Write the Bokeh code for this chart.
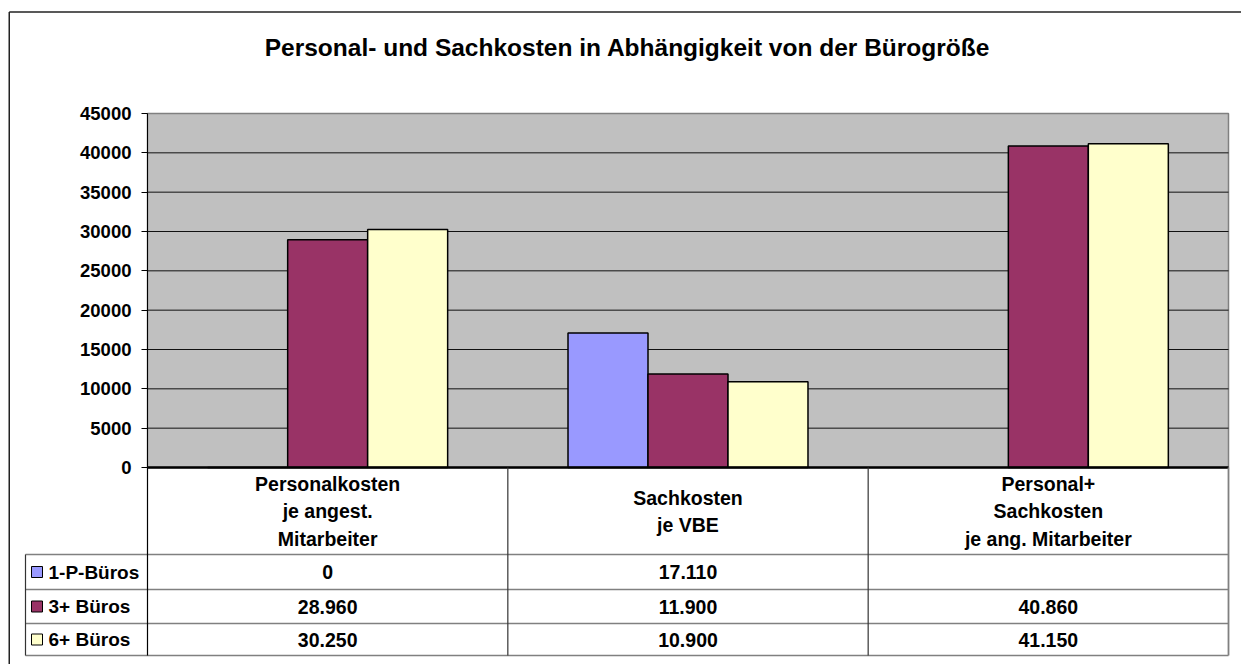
from bokeh.plotting import figure
from bokeh.models import Range1d, FixedTicker, LinearAxis, ColumnDataSource
from bokeh.embed import file_html
from bokeh.resources import INLINE
from bokeh.core.properties import value

# ---------------- data ----------------
title_text = "Personal- und Sachkosten in Abhängigkeit von der Bürogröße"
categories = ["Personalkosten\nje angest.\nMitarbeiter",
              "Sachkosten\nje VBE",
              "Personal+\nSachkosten\nje ang. Mitarbeiter"]
series_names = ["1-P-Büros", "3+ Büros", "6+ Büros"]
values_1p = [0, 17110, None]
values_3p = [28960, 11900, 40860]
values_6p = [30250, 10900, 41150]
series_values = [values_1p, values_3p, values_6p]
series_colors = ["#9999FF", "#993366", "#FFFFCC"]
y_ticks = [0, 5000, 10000, 15000, 20000, 25000, 30000, 35000, 40000, 45000]
y_max = 45000

# ---------------- layout constants (page pixels) ----------------
FONT = "Liberation Sans"
W, H = 1241, 664             # canvas size; canvas starts at page (0, 0)
CX0, CY0 = 0, 0
PLOT_L, PLOT_R = 147, 1228   # plot area left/right
PLOT_T, PLOT_B = 113, 467    # plot area top / zero line
TBL_L = 25
ROW_LINES = [554, 589, 623, 655]
ROW_CENTERS = [571.5, 606, 639]
HEADER_Y = 511
BAR_W = 0.222

n_cat = len(categories)
ux = (PLOT_R - PLOT_L) / n_cat          # px per category
uy = (PLOT_B - PLOT_T) / y_max          # px per value unit
x_start = (CX0 - PLOT_L) / ux
x_end = (CX0 + W - PLOT_L) / ux
y_top = y_max + (PLOT_T - CY0) / uy
y_bot = -(CY0 + H - PLOT_B) / uy

p = figure(width=W, height=H, x_range=Range1d(x_start, x_end), y_range=Range1d(y_bot, y_top),
           x_axis_type=None, y_axis_type=None, output_backend="svg", toolbar_location=None,
           min_border_left=0, min_border_right=0, min_border_top=0, min_border_bottom=0,
           background_fill_color="white", border_fill_color="white")
p.outline_line_color = None
p.grid.visible = False
# page-pixel ranges for table / title / frame decorations
p.extra_x_ranges = {"px": Range1d(CX0, CX0 + W)}
p.extra_y_ranges = {"px": Range1d(CY0 + H, CY0)}

# outer border (left and top visible)
p.segment(x0=[8.75, 8.75], y0=[11.5, 11.5], x1=[CX0 + W, 8.75], y1=[11.5, CY0 + H],
          x_range_name="px", y_range_name="px", line_color="#222222", line_width=1.5)

# title
p.text(x=[627], y=[47], text=[title_text], x_range_name="px", y_range_name="px",
       text_font=value(FONT), text_font_size="24.5px", text_font_style="bold",
       text_align="center", text_baseline="middle", text_color="black")

# plot area background
p.quad(left=[0], right=[n_cat], bottom=[0], top=[y_max], fill_color="#C0C0C0",
       line_color="#808080", line_width=1.5)

# horizontal gridlines
grid_vals = y_ticks[1:-1]
p.segment(x0=[0] * len(grid_vals), y0=grid_vals, x1=[n_cat] * len(grid_vals), y1=grid_vals,
          line_color="#111111", line_width=1)

# y axis
yaxis = LinearAxis(ticker=FixedTicker(ticks=y_ticks), bounds=(0, y_max), fixed_location=0)
yaxis.major_label_text_font = FONT
yaxis.major_label_text_font_size = "18.5px"
yaxis.major_label_text_font_style = "bold"
yaxis.major_label_text_color = "black"
yaxis.major_tick_out = 6
yaxis.major_tick_in = 0
yaxis.minor_tick_line_color = None
yaxis.axis_line_color = "black"
yaxis.major_tick_line_color = "black"
yaxis.major_label_standoff = 10
p.add_layout(yaxis, "left")

# bars
for j, (vals, col) in enumerate(zip(series_values, series_colors)):
    xs, tops = [], []
    for i, v in enumerate(vals):
        if v is None:
            continue
        xs.append(i + 0.5 + (j - 1) * BAR_W)
        tops.append(v)
    src = ColumnDataSource(dict(x=xs, top=tops))
    p.vbar(x="x", top="top", bottom=0, width=BAR_W, source=src,
           fill_color=col, line_color="black", line_width=1.5)

# ---------------- data table ----------------
# zero / category axis line
p.segment(x0=[0], y0=[0], x1=[n_cat], y1=[0], line_color="black", line_width=2.5)
# horizontal table lines
p.segment(x0=[TBL_L] * len(ROW_LINES), y0=ROW_LINES, x1=[PLOT_R] * len(ROW_LINES), y1=ROW_LINES,
          x_range_name="px", y_range_name="px", line_color="#808080", line_width=1.3)
# vertical lines (category boundaries)
p.segment(x0=[0], y0=[PLOT_B], x1=[0], y1=[ROW_LINES[-1]], y_range_name="px",
          line_color="black", line_width=1.2)
p.segment(x0=list(range(1, n_cat)), y0=[PLOT_B] * (n_cat - 1), x1=list(range(1, n_cat)),
          y1=[ROW_LINES[-1]] * (n_cat - 1), y_range_name="px", line_color="#333333", line_width=1.2)
p.segment(x0=[n_cat], y0=[PLOT_B], x1=[n_cat], y1=[ROW_LINES[-1]], y_range_name="px",
          line_color="#808080", line_width=1.8)
p.segment(x0=[TBL_L], y0=[ROW_LINES[0]], x1=[TBL_L], y1=[ROW_LINES[-1]],
          x_range_name="px", y_range_name="px", line_color="#333333", line_width=1.2)

# header
p.text(x=[i + 0.5 for i in range(n_cat)], y=[HEADER_Y] * n_cat, text=categories, y_range_name="px",
       text_font=value(FONT), text_font_size="19.5px", text_font_style="bold",
       text_align="center", text_baseline="middle", text_line_height=1.24, text_color="black")


def fmt(v):
    if v is None:
        return ""
    return f"{v:,}".replace(",", ".")


cell_x, cell_y, cell_t = [], [], []
for r, vals in enumerate(series_values):
    for i, v in enumerate(vals):
        cell_x.append(i + 0.5)
        cell_y.append(ROW_CENTERS[r])
        cell_t.append(fmt(v))
p.text(x=cell_x, y=cell_y, text=cell_t, y_range_name="px", text_font=value(FONT),
       text_font_size="19.5px", text_font_style="bold", text_align="center",
       text_baseline="middle", text_color="black")

# legend keys in table
p.rect(x=[36.5] * 3, y=ROW_CENTERS, width=11, height=11, width_units="screen", height_units="screen",
       x_range_name="px", y_range_name="px",
       fill_color=series_colors, line_color="black", line_width=1)
p.text(x=[48] * 3, y=ROW_CENTERS, text=series_names, x_range_name="px", y_range_name="px",
       text_font=value(FONT), text_font_size="19px", text_font_style="bold",
       text_align="left", text_baseline="middle", text_color="black")

open("out.html", "w").write(file_html(p, INLINE))
